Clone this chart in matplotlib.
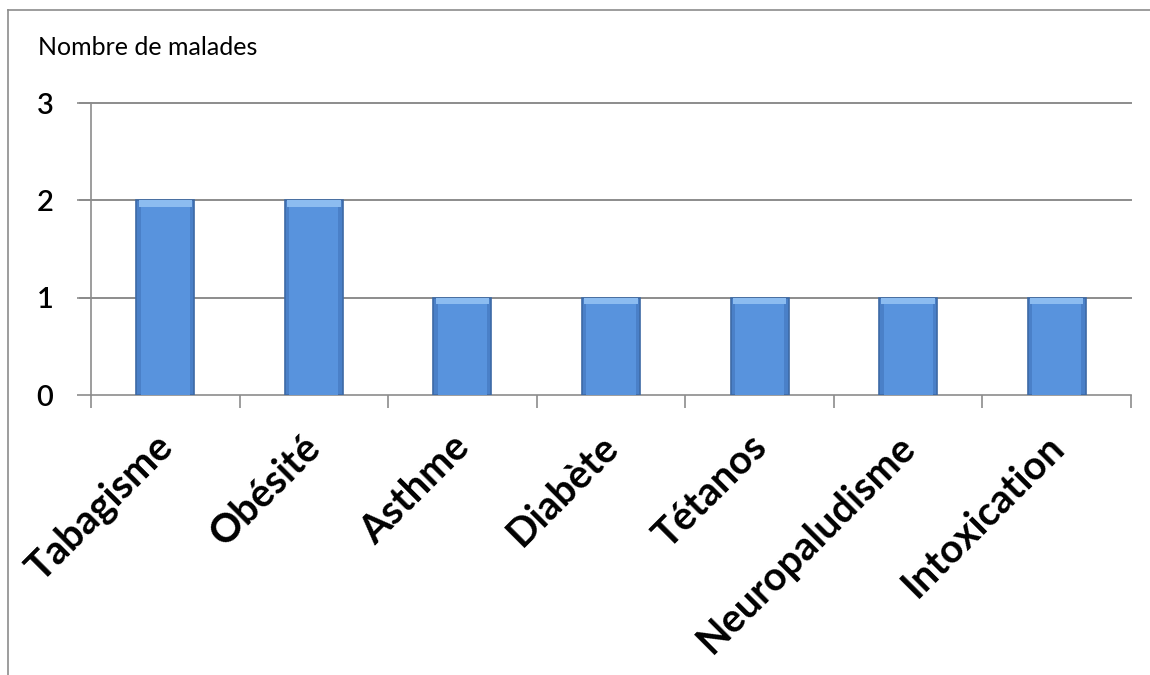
import numpy as np
import matplotlib.pyplot as plt
from matplotlib.lines import Line2D

# Donnees
maladies = ["Tabagisme", "Obésité", "Asthme", "Diabète", "Tétanos",
            "Neuropaludisme", "Intoxication"]
malades = [2, 2, 1, 1, 1, 1, 1]
yticks = [0, 1, 2, 3]

fig = plt.figure(figsize=(11.5, 6.75), dpi=100)
ax = fig.add_axes([0.0791, 0.4148, 0.9044, 0.4326])

x = np.arange(len(maladies))
gris = '#8c8c8c'

# barres avec un leger relief
ax.bar(x, malades, width=0.39, color='#4a80c8', edgecolor='#3d6aa6',
       linewidth=1.2, zorder=3)
ax.bar(x, malades, width=0.33, color='#5893dd', linewidth=0, zorder=3)
haut = [0.07] * len(maladies)
ax.bar(x, haut, width=0.36, bottom=np.array(malades) - 0.07,
       color='#8cbcf0', linewidth=0, zorder=4)

ax.set_xlim(-0.5, len(maladies) - 0.5)
ax.set_ylim(0, 3)
ax.set_yticks(yticks)
ax.set_yticklabels([str(v) for v in yticks], fontsize=21, fontfamily='Lato',
                   fontweight='semibold')
for v in yticks[1:]:
    ax.plot([-0.575, len(maladies) - 0.5], [v, v], color=gris, lw=1.4,
            clip_on=False, zorder=1)

ax.set_xticks(np.arange(len(maladies) + 1) - 0.5, minor=False)
ax.set_xticklabels([])
ax.tick_params(axis='x', length=9, color=gris, width=1.2)
ax.tick_params(axis='y', length=10, color=gris, width=1.2, pad=17)

for i, m in enumerate(maladies):
    ax.text(i - 0.08, -0.34, m, rotation=45, ha='right', va='top',
            rotation_mode='anchor', fontsize=28.5, fontweight='bold',
            fontfamily='Lato')

for s in ['top', 'right']:
    ax.spines[s].set_visible(False)
for s in ['left', 'bottom']:
    ax.spines[s].set_color(gris)
    ax.spines[s].set_linewidth(1.2)

fig.text(0.033, 0.929, "Nombre de malades", fontsize=18, fontfamily='Lato',
         va='center')

# cadre du graphique
fig.add_artist(Line2D([0.007, 0.007], [0, 0.985], color=gris, lw=1.2))
fig.add_artist(Line2D([0.007, 1.0], [0.985, 0.985], color=gris, lw=1.2))

fig.savefig("out.png", dpi=100)
